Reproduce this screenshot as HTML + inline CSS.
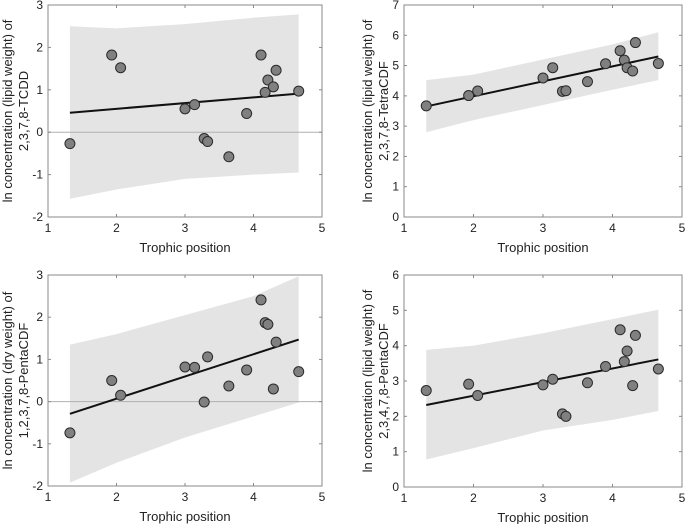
<!DOCTYPE html>
<html><head><meta charset="utf-8"><style>
html,body{margin:0;padding:0;background:#fff;}
svg{display:block;font-family:"Liberation Sans",Arial,sans-serif;}
</style></head><body>
<svg id="fig" width="685" height="524" viewBox="0 0 685 524"></svg>
<script>
const trophic = [1.32,1.93,2.06,3.0,3.14,3.28,3.33,3.64,3.9,4.11,4.17,4.21,4.29,4.33,4.66];
const tcddValues = [-0.27,1.82,1.52,0.55,0.65,-0.15,-0.22,-0.58,0.44,1.82,0.94,1.23,1.07,1.46,0.97];
const tetraValues = [3.67,4.01,4.16,4.59,4.93,4.15,4.17,4.47,5.06,5.49,5.18,4.93,4.82,5.76,5.07];
const penta1Values = [-0.74,0.5,0.15,0.82,0.81,-0.01,1.06,0.37,0.75,2.41,1.87,1.83,0.3,1.41,0.71];
const penta2Values = [2.73,2.91,2.59,2.89,3.05,2.07,2.0,2.95,3.41,4.45,3.55,3.85,2.87,4.29,3.34];
const bandX = [1.32,2,3,4,4.66];
const tcddUpper = [2.5,2.45,2.55,2.7,2.78], tcddLower = [-1.57,-1.35,-1.1,-1.0,-0.95];
const tetraUpper = [4.52,4.7,5.2,5.7,6.1], tetraLower = [2.8,3.2,3.7,4.2,4.52];
const penta1Upper = [1.35,1.6,2.05,2.5,2.97], penta1Lower = [-1.92,-1.45,-0.85,-0.35,-0.02];
const penta2Upper = [3.88,4.0,4.35,4.75,5.02], penta2Lower = [0.78,1.1,1.6,1.9,2.15];
const lineX = [1.32,4.66];
const tcddLine = [0.46,0.91], tetraLine = [3.65,5.3], penta1Line = [-0.29,1.47], penta2Line = [2.32,3.61];
const xTicks = [1,2,3,4,5];
const tcddTicks = [-2,-1,0,1,2,3], tetraTicks = [0,1,2,3,4,5,6,7], penta1Ticks = [-2,-1,0,1,2,3], penta2Ticks = [0,1,2,3,4,5,6];

const NS = "http://www.w3.org/2000/svg";
const svg = document.getElementById('fig');
function mk(tag, attrs, parent){const e=document.createElementNS(NS,tag);for(const k in attrs)e.setAttribute(k,attrs[k]);(parent||svg).appendChild(e);return e;}

const panels = [
 {id:'tcdd',L:48,R:322,T:5,B:217,ymin:-2,ymax:3,yt:tcddTicks,vals:tcddValues,up:tcddUpper,lo:tcddLower,line:tcddLine,zero:true,lab:['ln concentration (lipid weight) of','2,3,7,8-TCDD'],lx:7},
 {id:'tetracdf',L:404,R:682,T:5,B:217,ymin:0,ymax:7,yt:tetraTicks,vals:tetraValues,up:tetraUpper,lo:tetraLower,line:tetraLine,zero:false,lab:['ln concentration (lipid weight) of','2,3,7,8-TetraCDF'],lx:367},
 {id:'pentacdf-123',L:48,R:322,T:275,B:486,ymin:-2,ymax:3,yt:penta1Ticks,vals:penta1Values,up:penta1Upper,lo:penta1Lower,line:penta1Line,zero:true,lab:['ln concentration (dry weight) of','1,2,3,7,8-PentaCDF'],lx:7},
 {id:'pentacdf-234',L:404,R:682,T:275,B:487,ymin:0,ymax:6,yt:penta2Ticks,vals:penta2Values,up:penta2Upper,lo:penta2Lower,line:penta2Line,zero:false,lab:['ln concentration (lipid weight) of','2,3,4,7,8-PentaCDF'],lx:367}
];

panels.forEach(p=>{
  const g = mk('g',{});
  
  
  const sx = v => p.L + (v-1)/(5-1)*(p.R-p.L);
  const sy = v => p.B - (v-p.ymin)/(p.ymax-p.ymin)*(p.B-p.T);
  // band
  let pts = bandX.map((x,i)=>sx(x)+','+sy(p.up[i]));
  pts = pts.concat(bandX.slice().reverse().map((x,i)=>sx(x)+','+sy(p.lo[bandX.length-1-i])));
  const band = mk('polygon',{points:pts.join(' '),fill:'#e4e4e4'},g);
  
  
  if(p.zero){
    const z = mk('line',{x1:p.L,x2:p.R,y1:sy(0),y2:sy(0),stroke:'#b0b0b0','stroke-width':1},g);
    
    
  }
  // axes box
  const box = mk('rect',{x:p.L,y:p.T,width:p.R-p.L,height:p.B-p.T,fill:'none',stroke:'#8a8a8a','stroke-width':1},g);
  
  
  xTicks.forEach(t=>{
    const x=sx(t);
    mk('line',{x1:x,x2:x,y1:p.B,y2:p.B-3,stroke:'#8a8a8a'},g);
    mk('line',{x1:x,x2:x,y1:p.T,y2:p.T+3,stroke:'#8a8a8a'},g);
    const tx = mk('text',{x:x,y:p.B+15,'text-anchor':'middle','font-size':12,fill:'#222'},g);
    tx.textContent=t;
    
    
  });
  p.yt.forEach(t=>{
    const y=sy(t);
    mk('line',{x1:p.L,x2:p.L+3,y1:y,y2:y,stroke:'#8a8a8a'},g);
    mk('line',{x1:p.R,x2:p.R-3,y1:y,y2:y,stroke:'#8a8a8a'},g);
    const ty = mk('text',{x:p.L-5,y:y+4,'text-anchor':'end','font-size':12,fill:'#222'},g);
    ty.textContent=t;
    
    
  });
  // fit line
  const fl = mk('line',{x1:sx(lineX[0]),y1:sy(p.line[0]),x2:sx(lineX[1]),y2:sy(p.line[1]),stroke:'#111','stroke-width':2},g);
  
  
  trophic.forEach((x,i)=>{
    const c = mk('circle',{cx:sx(x),cy:sy(p.vals[i]),r:5,fill:'#808080',stroke:'#2a2a2a','stroke-width':1},g);
    
    
  });
  const xl = mk('text',{x:(p.L+p.R)/2,y:p.B+35,'text-anchor':'middle','font-size':13,fill:'#222'},g);
  xl.textContent='Trophic position';
  
  
  const cy=(p.T+p.B)/2;
  const yl = mk('text',{transform:`translate(${p.lx+5},${cy}) rotate(-90)`,'text-anchor':'middle','font-size':13,fill:'#222'},g);
  
  
  p.lab.forEach((s,i)=>{const ts=mk('tspan',{x:0,dy:i?16:0},yl);ts.textContent=s;});
});
</script>
</body></html>
